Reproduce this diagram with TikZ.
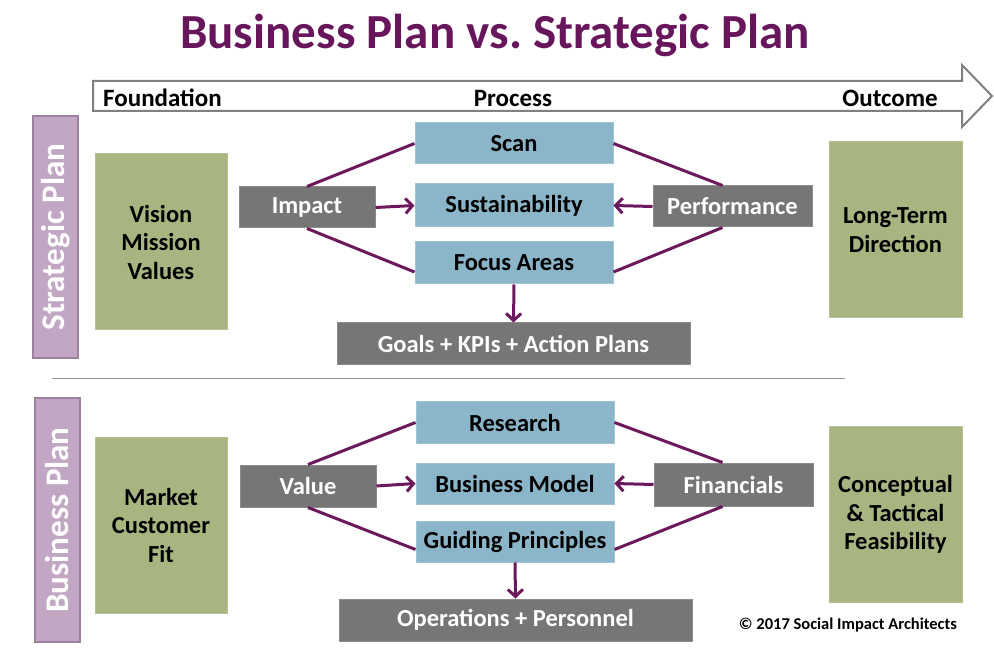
\documentclass[tikz,border=0pt]{standalone}
\usepackage{fontspec}
\setmainfont{Carlito}
\usetikzlibrary{arrows.meta}
\definecolor{titlec}{RGB}{104,22,92}
\definecolor{linec}{RGB}{108,24,92}
\definecolor{bluef}{RGB}{139,181,200}
\definecolor{bluebd}{RGB}{160,196,212}
\definecolor{grayf}{RGB}{118,118,118}
\definecolor{greenf}{RGB}{168,181,128}
\definecolor{barf}{RGB}{193,167,196}
\definecolor{barbd}{RGB}{158,128,160}
\definecolor{arrbd}{RGB}{128,128,128}
\tikzset{
  bluebox/.style={fill=bluef,draw=bluebd,line width=1pt,inner sep=0pt,minimum width=198pt,minimum height=41pt,font=\fontsize{24.5}{28}\selectfont\bfseries,text=black},
  graybox/.style={fill=grayf,draw=grayf!85!white,line width=1pt,inner sep=0pt,minimum height=41pt,font=\fontsize{24.5}{28}\selectfont\bfseries,text=white},
  greenbox/.style={fill=greenf,draw=greenf!85!white,line width=1pt,inner sep=0pt,minimum width=132pt,minimum height=176pt,align=center,font=\fontsize{24.5}{28.5}\selectfont\bfseries,text=black},
  barbox/.style={fill=barf,draw=barbd,line width=2pt,inner sep=0pt,minimum width=242pt,minimum height=45pt,rotate=90,font=\fontsize{33}{36}\selectfont\bfseries,text=white},
  conn/.style={draw=linec,line width=3pt},
  arr/.style={conn,-{Straight Barb[length=7pt,width=15pt,line width=3pt]}},
  headtxt/.style={font=\fontsize{25}{28}\selectfont\bfseries,text=black,inner sep=0pt}
}
\begin{document}
\begin{tikzpicture}[x=1pt,y=-1pt]
\useasboundingbox (0,0) rectangle (994,660);
% title
\node[font=\fontsize{49}{54}\selectfont\bfseries,text=titlec] (title) at (495,35) {Business Plan vs.\ Strategic Plan};
% process arrow
\draw[draw=arrbd,line width=2pt,fill=white,line join=miter] (93,81) -- (962,81) -- (962,65) -- (992,96) -- (962,127) -- (962,111) -- (93,111) -- cycle;
\node[headtxt,anchor=west] (found) at (103,98) {Foundation};
\node[headtxt] (proc) at (513,98) {Process};
\node[headtxt,anchor=east] (outc) at (938,98) {Outcome};
% side bars
\node[barbox] (spbar) at (55.5,237) {Strategic Plan};
\node[barbox,minimum width=244pt] (bpbar) at (57.5,520) {Business Plan};
% separator
\draw[draw=black!40,line width=0.8pt] (52,378) -- (845,378);
% strategic plan section
\node[greenbox] (vision) at (161,242) {Vision\\Mission\\Values};
\node[greenbox,minimum width=133pt] (ltd) at (895.5,230) {Long-Term\\Direction};
\node[bluebox] (scan) at (514,143.5) {Scan};
\node[bluebox,minimum height=43pt] (sust) at (514,205.5) {Sustainability};
\node[bluebox,minimum height=42pt] (focus) at (514,263) {Focus Areas};
\node[graybox,minimum width=136pt] (impact) at (307,207.5) {Impact};
\node[graybox,minimum width=159pt] (perf) at (732.5,206.5) {Performance};
\node[graybox,minimum width=353pt,minimum height=42pt] (goals) at (513.5,344) {Goals + KPIs + Action Plans};
\draw[conn] (impact.north) -- (scan.west);
\draw[conn] (impact.south) -- ([yshift=-9pt]focus.west);
\draw[conn] ([xshift=-10pt]perf.north) -- (scan.east);
\draw[conn] ([xshift=-10pt]perf.south) -- ([yshift=-9pt]focus.east);
\draw[arr] (impact.east) -- (sust.west);
\draw[arr] (perf.west) -- (sust.east);
\draw[arr] (focus.south) -- (goals.north);
% business plan section
\node[greenbox] (market) at (161,525) {Market\\Customer\\Fit};
\node[greenbox,minimum width=133pt,minimum height=175pt] (concept) at (895.5,514.5) {Conceptual\\\&~Tactical\\Feasibility};
\node[bluebox] (research) at (515,422.5) {Research};
\node[bluebox] (bm) at (515,483.5) {Business Model};
\node[bluebox] (gp) at (515,541.5) {Guiding Principles};
\node[graybox,minimum width=136pt,minimum height=42pt] (value) at (308,486) {Value};
\node[graybox,minimum width=159pt,minimum height=43pt] (fin) at (733.5,484.5) {Financials};
\node[graybox,minimum width=353pt,minimum height=42pt] (ops) at (515.5,620) {Operations + Personnel};
\draw[conn] (value.north) -- (research.west);
\draw[conn] (value.south) -- ([yshift=-8pt]gp.west);
\draw[conn] ([xshift=-11pt]fin.north) -- (research.east);
\draw[conn] ([xshift=-11pt]fin.south) -- ([yshift=-8pt]gp.east);
\draw[arr] (value.east) -- (bm.west);
\draw[arr] (fin.west) -- (bm.east);
\draw[arr] (gp.south) -- (ops.north);
% copyright
\node[font=\fontsize{16.5}{18}\selectfont\bfseries,text=black,anchor=east,inner sep=0pt] (copy) at (957,625) {© 2017 Social Impact Architects};
\end{tikzpicture}
\end{document}
